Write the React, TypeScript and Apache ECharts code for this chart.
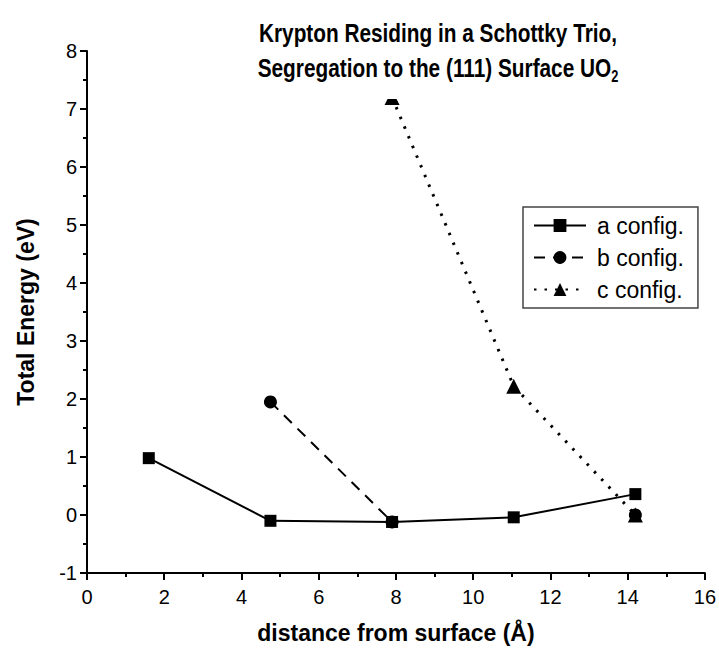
import React, { useEffect, useRef } from "react";
import * as echarts from "echarts";

// Distances from the (111) surface, in Å
const distance = [1.6, 4.75, 7.9, 11.05, 14.2];

// Total energies (eV) per configuration; null where a configuration has no site
const aConfig: (number | null)[] = [0.98, -0.1, -0.12, -0.04, 0.36];
const bConfig: (number | null)[] = [null, 1.95, -0.12, null, 0.0];
const cConfig: (number | null)[] = [null, null, 7.2, 2.22, 0.0];

const seriesNames = ["a config.", "b config.", "c config."];

const titleLine1 = "Krypton Residing in a Schottky Trio,";
const titleLine2 = "Segregation to the (111) Surface UO{sub|2}";
const xAxisName = "distance from surface (Å)";
const yAxisName = "Total Energy (eV)";

const FONT = "'Liberation Sans', Arial, Helvetica, sans-serif";

const pairs = (ys: (number | null)[]) => distance.map((x, i) => [x, ys[i]]);

export default function App() {
  const ref = useRef<HTMLDivElement>(null);

  useEffect(() => {
    if (!ref.current) return;
    const chart = echarts.init(ref.current, undefined, { renderer: "svg" });

    const axisCommon = {
      axisLine: { show: true, onZero: false, lineStyle: { color: "#000", width: 2 } },
      axisTick: { show: true, inside: false, length: 7, lineStyle: { color: "#000", width: 2 } },
      minorTick: { show: true, splitNumber: 2, length: 4, lineStyle: { color: "#000", width: 2 } },
      splitLine: { show: false },
      nameLocation: "middle" as const,
      nameTextStyle: { color: "#000", fontSize: 23, fontWeight: "bold" as const, fontFamily: FONT },
    };

    // Condensed bold heading drawn above the plot on a white panel
    const titleStyle = {
      fill: "#000",
      font: `bold 26px ${FONT}`,
      textAlign: "center",
      textVerticalAlign: "middle",
    };

    chart.setOption({
      animation: false,
      backgroundColor: "#fff",
      grid: { left: 87, right: 14, top: 51, bottom: 77, containLabel: false },
      xAxis: {
        type: "value",
        min: 0,
        max: 16,
        interval: 2,
        name: xAxisName,
        nameGap: 48,
        ...axisCommon,
        axisLabel: { color: "#000", fontSize: 20, fontFamily: FONT, margin: 14 },
      },
      yAxis: {
        type: "value",
        min: -1,
        max: 8,
        interval: 1,
        name: yAxisName,
        nameGap: 50,
        ...axisCommon,
        axisLabel: { color: "#000", fontSize: 20, fontFamily: FONT, margin: 10 },
      },
      legend: {
        data: seriesNames,
        orient: "vertical",
        left: 523,
        top: 207,
        itemWidth: 52,
        itemHeight: 16,
        itemGap: 9,
        padding: [7, 14, 7, 10],
        borderColor: "#444",
        borderWidth: 1.5,
        borderRadius: 0,
        backgroundColor: "#fff",
        textStyle: { color: "#000", fontSize: 23, fontFamily: FONT, padding: [0, 0, 0, 6] },
      },
      graphic: [
        {
          type: "rect",
          z: 100,
          shape: { x: 245, y: 8, width: 390, height: 91 },
          style: { fill: "#fff" },
        },
        {
          type: "text",
          z: 101,
          x: 438,
          y: 33,
          scaleX: 0.8,
          style: { ...titleStyle, text: titleLine1 },
        },
        {
          type: "text",
          z: 101,
          x: 438,
          y: 68,
          scaleX: 0.8,
          style: {
            ...titleStyle,
            text: titleLine2,
            rich: {
              sub: {
                fontSize: 16,
                fontWeight: "bold",
                fontFamily: FONT,
                padding: [16, 0, 0, 0],
              },
            },
          },
        },
      ],
      series: [
        {
          name: seriesNames[1],
          type: "line",
          data: pairs(bConfig),
          connectNulls: false,
          symbol: "circle",
          symbolSize: 13,
          itemStyle: { color: "#000" },
          lineStyle: { color: "#000", width: 2, type: [11, 8] },
          z: 2,
        },
        {
          name: seriesNames[2],
          type: "line",
          data: pairs(cConfig),
          connectNulls: false,
          symbol: "triangle",
          symbolSize: 15,
          itemStyle: { color: "#000" },
          lineStyle: { color: "#000", width: 3, type: [2.5, 8] },
          z: 3,
        },
        {
          name: seriesNames[0],
          type: "line",
          data: pairs(aConfig),
          connectNulls: false,
          symbol: "rect",
          symbolSize: 12,
          itemStyle: { color: "#000" },
          lineStyle: { color: "#000", width: 2 },
          z: 4,
        },
      ],
    });

    return () => chart.dispose();
  }, []);

  return (
    <div
      ref={ref}
      style={{ position: "fixed", left: 0, top: 0, width: 719, height: 650, background: "#fff" }}
    />
  );
}
